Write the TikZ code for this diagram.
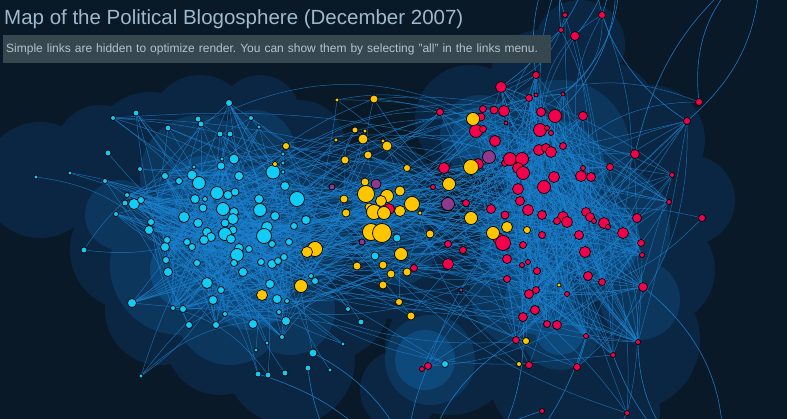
\documentclass[tikz,border=0pt]{standalone}
\usepackage{fontspec}
\setmainfont{Liberation Sans}
\usetikzlibrary{positioning}
\definecolor{blBack}{HTML}{0A1928}
\definecolor{blHaloA}{HTML}{0A2642}
\definecolor{blHaloB}{HTML}{0C365C}
\definecolor{blHaloC}{HTML}{0E497C}
\definecolor{blEdge}{HTML}{1B82CF}
\definecolor{blLib}{HTML}{11CCF6}
\definecolor{blCon}{HTML}{F5004C}
\definecolor{blMid}{HTML}{FFC600}
\definecolor{blMix}{HTML}{8E3A8C}
\definecolor{blTitle}{HTML}{9EB9CF}
\definecolor{blBox}{HTML}{37474F}
\definecolor{blNote}{HTML}{B3C2CB}
\tikzset{
  blog/.style={circle, draw=black, line width=0.7pt, inner sep=0pt},
  lib/.style={blog, fill=blLib},
  con/.style={blog, fill=blCon},
  mid/.style={blog, fill=blMid},
  mix/.style={blog, fill=blMix},
  link/.style={draw=blEdge, line width=0.5pt, opacity=0.75},
  longlink/.style={draw=blEdge, line width=0.6pt, opacity=0.9},
  maptitle/.style={font=\fontsize{20.5}{24}\selectfont, text=blTitle, inner sep=0pt},
  notebox/.style={fill=blBox, text=blNote, font=\fontsize{12}{14}\selectfont\frenchspacing,
    inner xsep=3pt, inner ysep=0pt, minimum height=28pt, text width=542pt, align=left}
}
% blogs: x/y/radius in pixels
\def\liblist{229/103/3.5, 136/113/3, 113/118/2.5, 168/128/3, 198/119/3, 201/124/3,
  251/118/2.5, 259/127/2, 220/134/3, 230/134/3, 108/153/3, 105/181/2.5, 140/169/2.5,
  234/159/5, 221/166/4, 222/159/2, 283/154/2, 273/172/7, 283/172/2, 192/175/5,
  199/183/6.5, 165/176/3.5, 179/181/3.5, 239/176/4.5, 285/186/4.5, 194/167/2,
  127/195/2.5, 125/203/3, 134/204/5.5, 141/200/3.5, 116/214/2.5, 217/193/6.5,
  228/195/4.5, 235/192/4, 195/199/4.5, 205/199/2.5, 203/208/4, 223/209/6.5,
  234/212/4.5, 233/219/5.5, 259/199/4.5, 260/210/6.5, 297/199/7.5, 275/216/4.5,
  184/217/5.5, 198/223/4.5, 151/222/3.5, 149/230/4.5, 225/223/4, 233/230/4,
  225/234/6.5, 231/239/4.5, 207/232/4.5, 211/237/4.5, 204/240/4.5, 267/227/5.5,
  264/236/7.5, 294/226/3.5, 306/220/4.5, 289/242/3.5, 272/244/3.5, 167/240/3.5,
  165/247/4.5, 187/242/3.5, 192/247/3.5, 249/249/3.5, 239/248/4.5, 237/255/6.5,
  234/263/3.5, 243/272/4.5, 197/263/3.5, 166/260/3.5, 168/272/4.5, 261/262/3.5,
  272/264/4.5, 278/261/3.5, 284/257/3.5, 207/283/5.5, 221/290/3.5, 213/300/4.5,
  270/284/4.5, 277/299/4.5, 287/301/2.5, 311/276/2.5, 315/281/3.5, 132/303/4.5,
  173/308/2.5, 183/309/3.5, 225/314/2.5, 279/312/2.5, 286/321/4.5, 189/325/3.5,
  216/325/3.5, 253/324/4.5, 282/337/2.5, 348/309/2.5, 283/163/2, 36/177/2, 70/173/2,
  84/250/3, 141/376/2, 258/374/3, 268/375/3, 285/373/3, 308/368/3, 313/353/4,
  330/370/2, 343/344/2, 361/322/3, 445/364/3.5, 256/350/2, 267/343/2, 397/238/4,
  375/256/4}
\def\midlist{337/100/2, 374/99/4, 355/130/3, 365/131/2, 363/139/5, 336/140/2,
  383/141/2, 387/146/5, 368/155/4, 345/160/4, 286/146/3.5, 275/164/2.5, 407/168/3.5,
  365/182/4, 366/194/8.5, 387/196/6.5, 400/191/5, 381/201/5.5, 369/207/4, 344/199/4,
  346/213/4, 374/212/7.5, 384/213/6.5, 400/211/5.5, 412/204/7.5, 420/213/2,
  371/232/8.5, 382/233/9.5, 430/234/4, 471/218/6.5, 449/184/6.5, 471/167/7.5,
  473/119/6.5, 401/254/6.5, 383/265/4, 357/266/4, 391/274/4, 407/272/4, 383/285/4,
  399/302/3.5, 493/233/6.5, 507/227/5.5, 527/230/3.5, 315/249/7.5, 307/252/5.5,
  301/286/6.5, 262/295/5.5, 411/316/4, 526/341/3.5, 519/364/2.5, 559/285/2}
\def\mixlist{376/184/5, 448/204/6.5, 489/157/6.5, 332/187/3, 362/242/3, 461/290/2}
\def\conlist{440/112/3.5, 483/109/3.5, 494/110/4, 504/111/5.5, 481/117/4, 476/131/6.5,
  483/129/3.5, 495/141/5.5, 506/123/2, 505/163/3.5, 478/164/5.5, 444/168/5.5,
  433/187/2.5, 466/203/3.5, 491/209/4.5, 505/215/4, 498/238/5.5, 503/243/7.5,
  448/244/3.5, 463/250/3.5, 448/264/5.5, 414/268/3.5, 507/259/4.5, 507/279/3.5,
  389/209/5.5, 536/75/3.5, 501/87/5.5, 529/98/3.5, 536/95/2, 563/94/2, 541/112/4.5,
  555/116/6.5, 583/116/4.5, 540/130/6.5, 547/128/2.5, 551/133/2.5, 539/150/5.5,
  546/148/4.5, 551/152/5.5, 563/146/3.5, 510/159/6.5, 522/159/6.5, 518/168/5.5,
  523/173/6.5, 583/168/2.5, 610/167/3.5, 635/154/4.5, 672/175/2.5, 687/121/3.5,
  554/177/5.5, 581/176/5.5, 591/177/4.5, 544/187/6.5, 518/189/5.5, 520/201/4.5,
  528/210/5.5, 542/215/4.5, 563/217/5.5, 567/222/5.5, 557/221/3.5, 586/212/4.5,
  590/217/4.5, 594/221/2.5, 604/223/5.5, 608/227/2.5, 623/233/5.5, 637/218/4.5,
  669/202/2.5, 542/235/3.5, 579/235/4.5, 523/245/3.5, 585/252/5.5, 641/243/3.5,
  642/255/2.5, 528/262/2.5, 522/265/2.5, 537/271/3.5, 588/276/4.5, 602/282/3.5,
  643/287/4.5, 529/294/4.5, 536/290/3.5, 567/294/2.5, 535/310/4.5, 523/317/4.5,
  547/324/3.5, 557/325/4.5, 516/340/3.5, 586/336/2.5, 638/342/2.5, 613/355/2.5,
  565/15/2.5, 602/15/3.5, 561/30/2.5, 575/36/4.5, 699/102/3.5, 702/218/3.5,
  627/413/2.5, 428/366/3.5, 422/369/2.5, 529/365/3.5, 577/367/3.5, 542/411/2.5}
% density halos: x/y/radius
\def\haloA{40/180/58, 100/150/45, 150/150/58, 200/125/50, 260/115/40, 300/145/45,
  130/250/60, 230/230/110, 160/310/55, 220/340/55, 290/360/65, 330/300/60,
  380/200/60, 400/260/60, 450/350/65, 400/390/40, 470/120/55, 540/80/50, 580/45/45,
  600/120/60, 650/140/55, 690/200/45, 660/270/55, 630/340/70, 560/250/100,
  550/380/60, 500/300/60, 620/410/40}
\def\haloB{120/215/35, 200/175/60, 255/150/40, 270/230/80, 180/265/70, 230/310/55,
  290/310/45, 380/200/40, 400/250/35, 430/360/45, 480/135/40, 560/150/70,
  600/230/70, 530/290/60, 640/300/40, 560/330/40}
\def\haloC{210/210/55, 260/220/55, 190/270/40, 250/290/40, 380/205/28, 425/360/30,
  480/135/28, 555/170/50, 530/240/50, 600/240/40, 540/300/35, 560/330/25}

\begin{document}
\begin{tikzpicture}[x=1pt, y=-1pt]
  \useasboundingbox (0,0) rectangle (787,418);
  \fill[blBack] (-10,-10) rectangle (797,428);
  % halos
  \foreach \x/\y/\s in \haloA {\fill[blHaloA] (\x,\y) circle (\s pt);}
  \foreach \x/\y/\s in \haloB {\fill[blHaloB] (\x,\y) circle (\s pt);}
  \foreach \x/\y/\s in \haloC {\fill[blHaloC] (\x,\y) circle (\s pt);}
  % anchor points of the blogs
  \foreach \x/\y/\r [count=\i] in \liblist {\coordinate (c\i) at (\x,\y); \xdef\nlib{\i}}
  \foreach \x/\y/\r [count=\i] in \conlist {\coordinate (r\i) at (\x,\y); \xdef\ncon{\i}}
  \foreach \x/\y/\r [count=\i] in \midlist {\coordinate (y\i) at (\x,\y); \xdef\nmid{\i}}
  \foreach \x/\y/\r [count=\i] in \mixlist {\coordinate (p\i) at (\x,\y); \xdef\nmix{\i}}
  \coordinate (outN) at (600,-90);
  \coordinate (outNE) at (760,-40);
  \coordinate (outS) at (420,520);
  \coordinate (outSE) at (720,480);
  % links inside the two camps
  \pgfmathsetseed{2007}
  \foreach \k in {1,...,360}{
    \pgfmathrandominteger{\a}{1}{95}
    \pgfmathrandominteger{\b}{14}{95}
    \pgfmathrandominteger{\t}{-12}{12}
    \draw[link] (c\a) to[bend left=\t] (c\b);
  }
  \foreach \k in {1,...,30}{
    \pgfmathrandominteger{\a}{96}{\nlib}
    \pgfmathrandominteger{\b}{14}{95}
    \pgfmathrandominteger{\t}{-25}{25}
    \draw[link] (c\a) to[bend left=\t] (c\b);
  }
  \foreach \k in {1,...,360}{
    \pgfmathrandominteger{\a}{1}{91}
    \pgfmathrandominteger{\b}{26}{91}
    \pgfmathrandominteger{\t}{-12}{12}
    \draw[link] (r\a) to[bend left=\t] (r\b);
  }
  \foreach \k in {1,...,30}{
    \pgfmathrandominteger{\a}{92}{\ncon}
    \pgfmathrandominteger{\b}{26}{91}
    \pgfmathrandominteger{\t}{-30}{30}
    \draw[link] (r\a) to[bend left=\t] (r\b);
  }
  % links across
  \foreach \k in {1,...,80}{
    \pgfmathrandominteger{\a}{1}{95}
    \pgfmathrandominteger{\b}{1}{91}
    \pgfmathrandominteger{\t}{-35}{35}
    \draw[link] (c\a) to[bend left=\t] (r\b);
  }
  \foreach \k in {1,...,75}{
    \pgfmathrandominteger{\a}{1}{\nmid}
    \pgfmathrandominteger{\b}{1}{95}
    \pgfmathrandominteger{\t}{-25}{25}
    \draw[link] (y\a) to[bend left=\t] (c\b);
  }
  \foreach \k in {1,...,65}{
    \pgfmathrandominteger{\a}{1}{\nmid}
    \pgfmathrandominteger{\b}{1}{91}
    \pgfmathrandominteger{\t}{-25}{25}
    \draw[link] (y\a) to[bend left=\t] (r\b);
  }
  \foreach \k in {1,...,25}{
    \pgfmathrandominteger{\a}{1}{\nmid}
    \pgfmathrandominteger{\b}{1}{\nmid}
    \draw[link] (y\a) to[bend left=20] (y\b);
  }
  \foreach \k in {1,...,12}{
    \pgfmathrandominteger{\a}{1}{\nmix}
    \pgfmathrandominteger{\b}{1}{\ncon}
    \draw[link] (p\a) to[bend right=15] (r\b);
  }
  % long arcs leaving the map
  \foreach \i/\t in {26/30, 27/-25, 31/20, 32/-35, 92/40, 93/-20, 94/25, 95/-30, 49/35, 30/-40}
    {\draw[longlink] (r\i) to[bend left=\t] (outN);}
  \foreach \i/\t in {96/30, 49/-25, 47/20}
    {\draw[longlink] (r\i) to[bend left=\t] (outNE);}
  \foreach \i/\t in {85/30, 88/-30, 89/25, 99/-20, 98/35, 103/-25}
    {\draw[longlink] (r\i) to[bend left=\t] (outS);}
  \foreach \i/\t in {90/-30, 80/30, 91/-20}
    {\draw[longlink] (r\i) to[bend left=\t] (outSE);}
  \foreach \i/\t in {102/25, 105/-30, 106/30}
    {\draw[longlink] (c\i) to[bend left=\t] (outS);}
  % blogs
  \foreach \x/\y/\r [count=\i] in \liblist {\node[lib, minimum size={2*\r*1pt}] (lib\i) at (c\i) {};}
  \foreach \x/\y/\r [count=\i] in \conlist {\node[con, minimum size={2*\r*1pt}] (con\i) at (r\i) {};}
  \foreach \x/\y/\r [count=\i] in \midlist {\node[mid, minimum size={2*\r*1pt}] (mid\i) at (y\i) {};}
  \foreach \x/\y/\r [count=\i] in \mixlist {\node[mix, minimum size={2*\r*1pt}] (mix\i) at (p\i) {};}
  % heading
  \node[maptitle, anchor=base west] (title) at (4,24) {Map of the Political Blogosphere (December 2007)};
  \node[notebox, anchor=north west] (note) at (3,35)
    {Simple links are hidden to optimize render. You can show them by selecting "all" in the links menu.};
\end{tikzpicture}
\end{document}
